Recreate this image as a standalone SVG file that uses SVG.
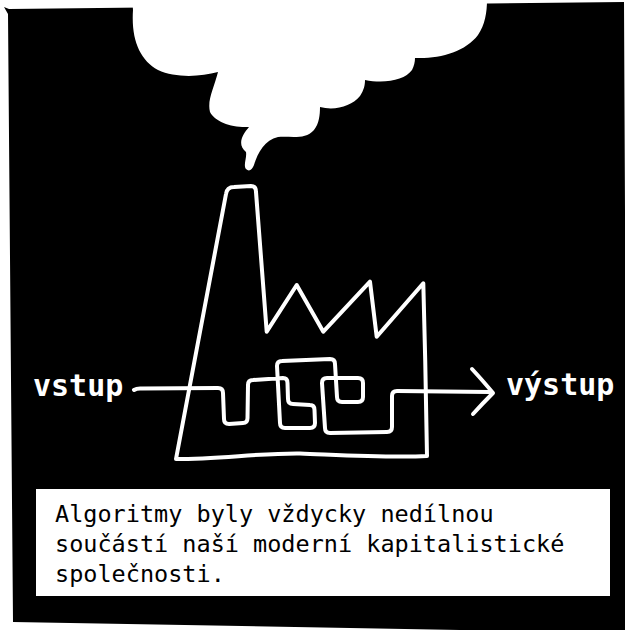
<svg xmlns="http://www.w3.org/2000/svg" width="625" height="630" viewBox="0 0 625 630">
  <defs>
    <style>
      .ink { fill: none; stroke: #ffffff; stroke-width: 4; stroke-linecap: round; stroke-linejoin: round; }
      .label { font-family: "DejaVu Sans Mono", "Liberation Mono", monospace; font-weight: bold; font-size: 30px; fill: #ffffff; }
      .caption { font-family: "DejaVu Sans Mono", "Liberation Mono", monospace; font-size: 23.5px; fill: #000000; }
    </style>
  </defs>

  <rect x="0" y="0" width="625" height="630" fill="#ffffff"/>

  <!-- black panel, slightly skewed like a hand-cut card -->
  <g id="panel">
    <path d="M4,7 L9,9 L624,2 L627,633 L13,622 L8,14 Z" fill="#000000"/>
  </g>

  <!-- smoke cloud rising from the chimney and leaving the panel -->
  <g id="smoke">
    <path fill="#ffffff" d="M132,-5 L133,10 C131,40 140,60 158,70 C175,78 200,77 218,72 C214,88 207,100 210,112 C215,122 232,128 249,127 C242,135 237,145 246,152 C247,158 243,165 246,169 C249,172 252,170 254,165 C258,152 265,140 278,137 C292,136 305,140 314,130 C319,124 320,115 320,107 C335,111 352,106 360,96 C364,90 365,85 365,80 C385,84 405,80 412,70 C414,66 415,62 415,58 C440,59 465,52 478,35 C485,25 487,12 487,0 L488,-5 Z"/>
  </g>

  <!-- factory outline: chimney, saw-tooth roof, walls and floor -->
  <g id="factory">
    <path class="ink" d="M176,459 L226,194 Q227,187 234,187 L251,186 Q256,186 256,192 L266.7,331.7 L296.7,285 L323.3,331.7 L370,281.7 L376.7,336.7 L423.3,283.3 C425,340 426,400 427,456 C390,458 340,455 300,453.5 C260,453 220,459 176,459 Z"/>
  </g>

  <!-- input/output flow winding through the factory -->
  <g id="connectors">
    <path class="ink" d="M134,390 Q137,388 142,388.5 L218,388 Q223,388 223,393 L224,419 Q224,424 229,424 L243,423 Q247.5,423 247.5,418 L248,385 Q248,380 253,380 L283,378 Q287.5,378 287.5,383 L288,399 Q288,404 293,404 L310,405 Q314.5,405 314.5,410 L315,423 Q315,428 310,428 L285,428 Q280,428 280,423 L277,366 Q277,361 282,361 L330,359 Q335,359 335,364 L337,397 Q337,402 342,402 L358,402 Q363,402 363,397 L363,383 Q363,378 358,378 L327,378 Q322,378 322,383 L325,428 Q325,433 330,433 L387,432 Q392,432 392,427 L392,396 Q392,391 397,391 L490,392"/>
    <path class="ink" d="M472,369 Q484,382 493,393 Q483,403 473,414"/>
  </g>

  <g id="input-label">
    <text class="label" x="33" y="396">vstup</text>
  </g>
  <g id="output-label">
    <text class="label" x="506" y="395">výstup</text>
  </g>

  <g id="caption">
    <rect x="36" y="489" width="574" height="107" fill="#ffffff"/>
    <text class="caption" x="55" y="522">Algoritmy byly vždycky nedílnou</text>
    <text class="caption" x="55" y="552">součástí naší moderní kapitalistické</text>
    <text class="caption" x="55" y="582">společnosti.</text>
  </g>
</svg>
